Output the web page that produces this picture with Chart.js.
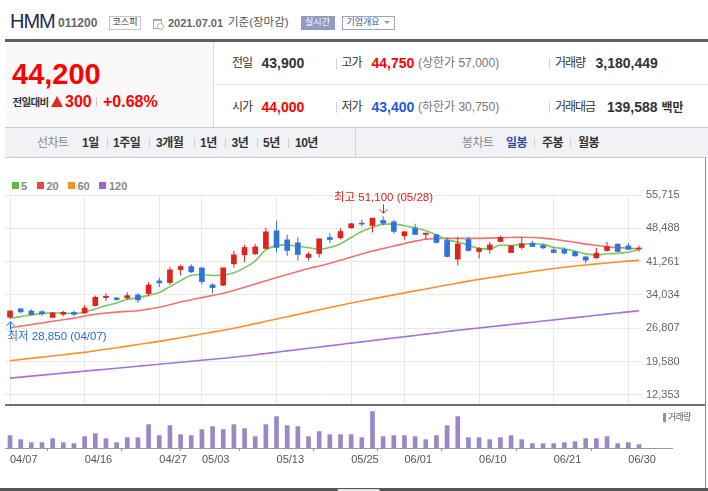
<!DOCTYPE html>
<html><head><meta charset="utf-8">
<script src="https://cdn.jsdelivr.net/npm/chart.js@4.4.1/dist/chart.umd.min.js"></script>
<style>
html,body{margin:0;padding:0;background:#fff;}
#root{position:relative;width:708px;height:491px;overflow:hidden;font-family:"Liberation Sans","Noto Sans CJK KR",sans-serif;}
.a{position:absolute;white-space:nowrap;}
.t{position:absolute;white-space:nowrap;height:16px;line-height:16px;}
.b{font-weight:bold;}
.k{font-size:12px;letter-spacing:-1px;color:#333;}
.sep{position:absolute;width:1px;background:#d2d2d2;}
.tab{position:absolute;white-space:nowrap;height:16px;line-height:16px;top:135px;font-size:12px;letter-spacing:-0.5px;font-weight:bold;color:#333;}
.tsep{position:absolute;width:1px;height:10px;top:138px;background:#cfcfcf;}
.lg{position:absolute;top:182px;width:7px;height:7px;}
.lgt{position:absolute;top:177.5px;height:16px;line-height:16px;font-size:11px;font-weight:bold;color:#888;}
canvas{position:absolute;left:0;}
</style></head>
<body>
<div id="root">
  <!-- header -->
  <div class="a" style="left:10px;top:9.5px;font-size:20px;line-height:22px;letter-spacing:-1px;color:#24285b">HMM</div>
  <div class="t b" style="left:58px;top:15px;font-size:12px;color:#666">011200</div>
  <div class="a" style="left:109px;top:16px;width:32px;height:13.5px;box-sizing:border-box;border:1px solid #c4c4c4;font-size:9px;line-height:11.5px;text-align:center;color:#333">코스피</div>
  <div class="a" style="left:153px;top:19px;width:7px;height:7px;border:1px solid #aaa;border-top-width:2px"></div>
  <div class="a" style="left:157px;top:23px;width:5px;height:5px;border:1px solid #aaa;border-radius:50%;background:#fff"></div>
  <div class="t b" style="left:168px;top:14.5px;font-size:11px;color:#666">2021.07.01</div>
  <div class="t" style="left:228px;top:14px;font-size:11.5px;color:#555">기준(장마감)</div>
  <div class="a" style="left:300.5px;top:16px;width:34px;height:13.5px;background:#8d9cc4;color:#fff;font-size:9px;line-height:13.5px;text-align:center">실시간</div>
  <div class="a" style="left:341.5px;top:16px;width:53px;height:13.5px;box-sizing:border-box;border:1px solid #97a5c9;color:#45558e;font-size:9px;line-height:11.5px;padding-left:4px">기업개요<span style="display:inline-block;margin-left:4px;vertical-align:middle;width:0;height:0;border-left:3px solid transparent;border-right:3px solid transparent;border-top:3px solid #8b97bb"></span></div>
  <div class="a" style="left:5px;top:39px;width:703px;height:3px;background:#5a5f69"></div>

  <!-- info panel -->
  <div class="a" style="left:5px;top:42px;width:208px;height:85px;background:#f9f9f9"></div>
  <div class="a" style="left:213px;top:42px;width:1px;height:85px;background:#d9d9d9"></div>
  <div class="a" style="left:214px;top:84px;width:494px;height:1px;background:#e8e8e8"></div>
  <div class="a b" style="left:12px;top:57px;font-size:29px;line-height:34px;color:#f00">44,200</div>
  <div class="t b" style="left:12.5px;top:94px;font-size:10.5px;letter-spacing:-0.7px;color:#333">전일대비</div>
  <div class="a" style="left:51px;top:95.5px;width:0;height:0;border-left:6.5px solid transparent;border-right:6.5px solid transparent;border-bottom:11.5px solid #e8271f"></div>
  <div class="t b" style="left:65px;top:93.5px;font-size:16px;color:#f00">300</div>
  <div class="sep" style="left:96px;top:97px;height:10px;background:#ccc"></div>
  <div class="t b" style="left:103px;top:93.5px;font-size:16px;color:#f00">+0.68%</div>

  <div class="t k" style="left:232px;top:55px">전일</div>
  <div class="t b" style="left:261.5px;top:55px;font-size:14px;color:#333">43,900</div>
  <div class="sep" style="left:335.5px;top:58px;height:11px"></div>
  <div class="t k" style="left:341.5px;top:55px">고가</div>
  <div class="t b" style="left:371.5px;top:55px;font-size:14px;color:#f00">44,750</div>
  <div class="t" style="left:418px;top:55px;font-size:12px;color:#777">(상한가 57,000)</div>
  <div class="sep" style="left:549px;top:58px;height:11px"></div>
  <div class="t k" style="left:555px;top:55px">거래량</div>
  <div class="t b" style="left:595.5px;top:55px;font-size:14px;color:#333">3,180,449</div>

  <div class="t k" style="left:232px;top:98.7px">시가</div>
  <div class="t b" style="left:261.5px;top:98.7px;font-size:14px;color:#f00">44,000</div>
  <div class="sep" style="left:335.5px;top:101.5px;height:11px"></div>
  <div class="t k" style="left:341.5px;top:98.7px">저가</div>
  <div class="t b" style="left:371.5px;top:98.7px;font-size:14px;color:#1a5ed9">43,400</div>
  <div class="t" style="left:418px;top:98.7px;font-size:12px;color:#777">(하한가 30,750)</div>
  <div class="sep" style="left:549px;top:101.5px;height:11px"></div>
  <div class="t k" style="left:555px;top:98.7px">거래대금</div>
  <div class="t b" style="left:607px;top:98.7px;font-size:14px;color:#333">139,588 <span style="font-size:12px">백만</span></div>

  <!-- tab bar -->
  <div class="a" style="left:5px;top:127px;width:703px;height:31px;box-sizing:border-box;background:#f1f2f6;border-top:1px solid #cacaca;border-bottom:1px solid #cacaca"></div>
  <div class="a" style="left:355px;top:128px;width:1px;height:29px;background:#d3d3d3"></div>
  <div class="tab" style="left:37px;font-weight:normal;color:#888">선차트</div>
  <div class="tab" style="left:82px">1일</div>
  <div class="tsep" style="left:107px"></div>
  <div class="tab" style="left:113px">1주일</div>
  <div class="tsep" style="left:149px"></div>
  <div class="tab" style="left:156px">3개월</div>
  <div class="tsep" style="left:194px"></div>
  <div class="tab" style="left:200px">1년</div>
  <div class="tsep" style="left:225px"></div>
  <div class="tab" style="left:231.5px">3년</div>
  <div class="tsep" style="left:257px"></div>
  <div class="tab" style="left:263px">5년</div>
  <div class="tsep" style="left:288px"></div>
  <div class="tab" style="left:295px">10년</div>
  <div class="tab" style="left:462px;font-weight:normal;color:#888">봉차트</div>
  <div class="tab" style="left:506px;color:#2f4fa5">일봉</div>
  <div class="tsep" style="left:534px"></div>
  <div class="tab" style="left:542px">주봉</div>
  <div class="tsep" style="left:570px"></div>
  <div class="tab" style="left:578px">월봉</div>

  <!-- legend -->
  <div class="lg" style="left:12px;background:#5dbb45"></div><div class="lgt" style="left:21px">5</div>
  <div class="lg" style="left:36.5px;background:#ee4646"></div><div class="lgt" style="left:46.5px">20</div>
  <div class="lg" style="left:68px;background:#f7941d"></div><div class="lgt" style="left:77.5px">60</div>
  <div class="lg" style="left:99px;background:#9f62cf"></div><div class="lgt" style="left:109px">120</div>

  <canvas id="vol" width="708" height="85" style="top:405px"></canvas>
  <canvas id="price" width="708" height="256" style="top:165px"></canvas>

  <div class="a" style="left:5px;top:404px;width:700px;height:2px;background:#707070"></div>
  <div class="a" style="left:705px;top:158px;width:1px;height:330px;background:#8c8c8c"></div>
  <div class="a" style="left:642px;top:448px;width:31px;height:1px;background:#999"></div>
  <div class="a" style="left:663px;top:412.5px;width:3px;height:9px;background:#9b87c8"></div>
  <div class="t" style="left:668px;top:409px;font-size:9px;letter-spacing:-0.6px;color:#555">거래량</div>
  <div class="a" style="left:0;top:488px;width:708px;height:2.5px;background:#555"></div>
  <div class="a" style="left:337px;top:489px;width:41px;height:2px;background:#e4e4e4;border-left:1px solid #999;border-right:1px solid #999"></div>
</div>
<script>
const dates = ['04/07','04/08','04/09','04/12','04/13','04/14','04/15','04/16','04/19','04/20','04/21','04/22','04/23','04/26','04/27','04/28','04/29','04/30',
 '05/03','05/04','05/06','05/07','05/10','05/11','05/12','05/13','05/14','05/17','05/18','05/20','05/21','05/24','05/25','05/26','05/27','05/28','05/31',
 '06/01','06/02','06/03','06/04','06/07','06/08','06/09','06/10','06/11','06/14','06/15','06/16','06/17','06/18','06/21','06/22','06/23','06/24','06/25','06/28','06/29','06/30','07/01'];
const opens  = [29200,31000,30550,30400,29150,29830,30260,30120,31710,33450,33380,33380,34030,34320,37070,36710,39540,40190,39900,36200,36130,40770,42730,42940,44100,47940,45990,45340,42150,43020,46500,46420,48600,49540,49100,50190,49900,46860,48520,47150,47075,45840,41780,46060,43450,43890,45630,43230,44320,45260,44760,43810,43890,43380,42290,42070,43670,45050,44680,44000];
const highs  = [30700,31200,30900,30700,30260,30620,30620,31860,33880,34320,33590,34610,34460,36780,37730,40120,40550,40700,40000,36570,39900,43600,44900,45120,48600,50120,47070,46570,43310,46210,47400,48520,49680,50410,50700,51100,50410,47870,49470,47510,47220,46490,46640,46640,44390,45550,46860,44830,46570,45770,45120,44320,44320,43600,42580,44250,45550,45260,45330,44750];
const lows   = [28850,30120,29610,29460,29000,29400,29470,29900,31490,32730,32800,33020,32290,33670,35770,36200,38230,38810,36280,34320,35990,39900,41200,42730,44100,43230,42510,41490,41490,42150,45300,46130,48380,48890,47580,49100,47290,46060,47150,46060,45190,42150,40410,43450,41930,43020,45480,43160,43890,44540,43890,43230,42800,42290,40840,41930,43380,43230,43890,43400];
const closes = [30550,30350,29750,29970,30120,30260,29830,31200,33520,33740,33020,33880,32940,36200,36640,39460,40190,39030,36930,35620,39900,42730,44320,44460,47730,44320,43670,42800,42870,46210,46050,47800,49470,49400,50700,49610,47800,47730,47150,47440,45410,42360,45120,43670,44100,44900,46500,44680,45120,44540,44250,43230,43090,42510,41570,43090,44540,43450,43900,44200];
const ma5   = [28960,29320,29680,29970,30150,30090,29990,30280,30990,31710,32260,33070,33420,33960,34540,35820,37090,38300,38450,38250,38330,38840,39900,41410,43830,44710,44900,44600,44280,43970,44320,45150,46480,47790,48690,49400,49400,49050,48600,47950,47110,46020,45500,44800,44130,44030,44860,44770,45060,45150,45020,44360,44050,43520,42930,42700,42960,43030,43310,43840];
const ma20  = [26900,27250,27600,27950,28300,28650,29000,29450,29850,30100,30300,30450,30600,30950,31350,31900,32500,33000,33450,33900,34400,35000,35700,36400,37100,37800,38450,39100,39750,40300,40900,41550,42250,42900,43550,44100,44650,45200,45700,46100,46300,46300,46300,46300,46300,46350,46450,46500,46550,46500,46350,46100,45800,45450,45050,44750,44500,44300,44150,44050];
const ma60  = [19750,20010,20270,20530,20790,21050,21310,21570,21900,22240,22580,22920,23260,23600,23950,24350,24750,25150,25550,25950,26350,26800,27300,27800,28300,28800,29300,29800,30300,30800,31300,31780,32260,32720,33170,33610,34040,34470,34900,35330,35760,36190,36610,37030,37400,37760,38110,38450,38790,39120,39440,39750,40030,40290,40530,40760,40970,41170,41360,41530];
const ma120 = [15980,16195,16410,16625,16840,17055,17270,17485,17700,17915,18130,18345,18560,18775,18990,19205,19420,19635,19850,20065,20280,20495,20760,21040,21320,21600,21880,22160,22440,22720,23000,23280,23560,23840,24120,24400,24680,24960,25240,25520,25800,26080,26360,26610,26860,27110,27360,27610,27860,28110,28360,28610,28860,29110,29360,29610,29860,30110,30360,30600];
const volumes = [11770000,7950000,5090000,5090000,8900000,5090000,4130000,10810000,13670000,8900000,5090000,9860000,9860000,22260000,11770000,21310000,12720000,11770000,17490000,20350000,17490000,22260000,18440000,10810000,22260000,29890000,21310000,20350000,10810000,15580000,12720000,12720000,12720000,9860000,34660000,10810000,11770000,11770000,10810000,7950000,11770000,21310000,29890000,9860000,9860000,7950000,9860000,11770000,7950000,4130000,4130000,4130000,5090000,6040000,8900000,8900000,10810000,4130000,5090000,3180449];
const tickIdx = [0,7,14,18,25,32,37,44,51,58];
const priceTicks = [12353,19580,26807,34034,41261,48488,55715];
const hiIdx = 35, hiVal = 51100;
const loIdx = 0, loVal = 28850;

Chart.defaults.font.family = '"Liberation Sans","Noto Sans CJK KR",sans-serif';
const X_MIN = -0.469, X_MAX = 59.28;
const upColor = '#e0241c', downColor = '#2f74dc';
const candleColors = closes.map((c, i) => c >= opens[i] ? upColor : downColor);
const pts = arr => arr.map((v, i) => ({x: i, y: v}));
const fmt = v => Number(v).toLocaleString('en-US');

const marks = {
  id: 'marks',
  afterDatasetsDraw(chart) {
    const {ctx, scales: {x, y}} = chart;
    ctx.save();
    ctx.lineWidth = 1;
    ctx.font = '11.5px "Liberation Sans","Noto Sans CJK KR"';
    ctx.textBaseline = 'middle';
    let px = Math.round(x.getPixelForValue(hiIdx)) + 0.5, py = y.getPixelForValue(hiVal);
    ctx.strokeStyle = ctx.fillStyle = '#e3211c';
    ctx.beginPath(); ctx.moveTo(px, py - 12); ctx.lineTo(px, py - 3); ctx.stroke();
    ctx.beginPath(); ctx.moveTo(px - 4, py - 7); ctx.lineTo(px, py - 3); ctx.lineTo(px + 4, py - 7); ctx.stroke();
    ctx.textAlign = 'center';
    ctx.fillText('최고 ' + fmt(hiVal) + ' (' + dates[hiIdx] + ')', px, py - 18);
    px = Math.round(x.getPixelForValue(loIdx)) + 0.5; py = y.getPixelForValue(loVal);
    ctx.strokeStyle = ctx.fillStyle = '#1f6fd8';
    ctx.beginPath(); ctx.moveTo(px, py + 3); ctx.lineTo(px, py + 11); ctx.stroke();
    ctx.beginPath(); ctx.moveTo(px - 4, py + 7); ctx.lineTo(px, py + 3); ctx.lineTo(px + 4, py + 7); ctx.stroke();
    ctx.textAlign = 'left';
    ctx.fillText('최저 ' + fmt(loVal) + ' (' + dates[loIdx] + ')', px - 3, py + 18);
    ctx.restore();
  }
};

const lineDs = (data, color, order) => ({type: 'line', data: pts(data), borderColor: color, borderWidth: 1.6,
  pointRadius: 0, cubicInterpolationMode: 'monotone', order});

new Chart(document.getElementById('price'), {
  type: 'bar',
  data: {datasets: [
    lineDs(ma120, '#a872d8', 6),
    lineDs(ma60, '#f7922a', 5),
    lineDs(ma20, '#f07272', 4),
    lineDs(ma5, '#7cc860', 3),
    {type: 'bar', data: lows.map((l, i) => ({x: i, y: [l, highs[i]]})), backgroundColor: candleColors,
      barThickness: 1, grouped: false, inflateAmount: 0, order: 2},
    {type: 'bar', data: opens.map((o, i) => ({x: i, y: [o, closes[i]]})), backgroundColor: candleColors,
      barThickness: 5, grouped: false, minBarLength: 1, order: 1}
  ]},
  options: {
    responsive: false, animation: false, events: [],
    layout: {padding: {left: 5, top: 30, right: 0, bottom: 0}},
    plugins: {legend: {display: false}, tooltip: {enabled: false}},
    scales: {
      x: {type: 'linear', min: X_MIN, max: X_MAX, offset: false,
        afterBuildTicks: s => { s.ticks = tickIdx.map(v => ({value: v})); },
        afterFit: s => { s.height = 16; },
        ticks: {display: false}, grid: {color: '#e9e9e9', drawTicks: false, offset: false}, border: {display: false}},
      y: {position: 'right', min: 10140, max: 55715,
        afterBuildTicks: s => { s.ticks = priceTicks.map(v => ({value: v})); },
        afterFit: s => { s.width = 66; },
        grid: {color: '#e9e9e9', drawTicks: false}, border: {display: false},
        ticks: {padding: 4, color: '#666', font: {size: 11}, callback: v => fmt(v)}}
    }
  },
  plugins: [marks]
});

new Chart(document.getElementById('vol'), {
  type: 'bar',
  data: {datasets: [{data: volumes.map((v, i) => ({x: i, y: v})), backgroundColor: '#9b87c8', barThickness: 4}]},
  options: {
    responsive: false, animation: false, events: [],
    layout: {padding: {left: 5, top: 2, right: 66, bottom: 0}},
    plugins: {legend: {display: false}, tooltip: {enabled: false}},
    scales: {
      x: {type: 'linear', min: X_MIN, max: X_MAX, offset: false,
        afterBuildTicks: s => { s.ticks = tickIdx.map(v => ({value: v})); },
        afterFit: s => { s.height = 42; },
        grid: {display: true, drawOnChartArea: false, drawTicks: true, tickLength: 3, color: '#999'},
        border: {display: true, color: '#999'},
        ticks: {align: 'start', padding: 2, color: '#555', font: {size: 11}, autoSkip: false, maxRotation: 0,
          callback: v => dates[v]}},
      y: {display: false, min: 0, max: 39000000}
    }
  }
});
</script>
</body></html>
